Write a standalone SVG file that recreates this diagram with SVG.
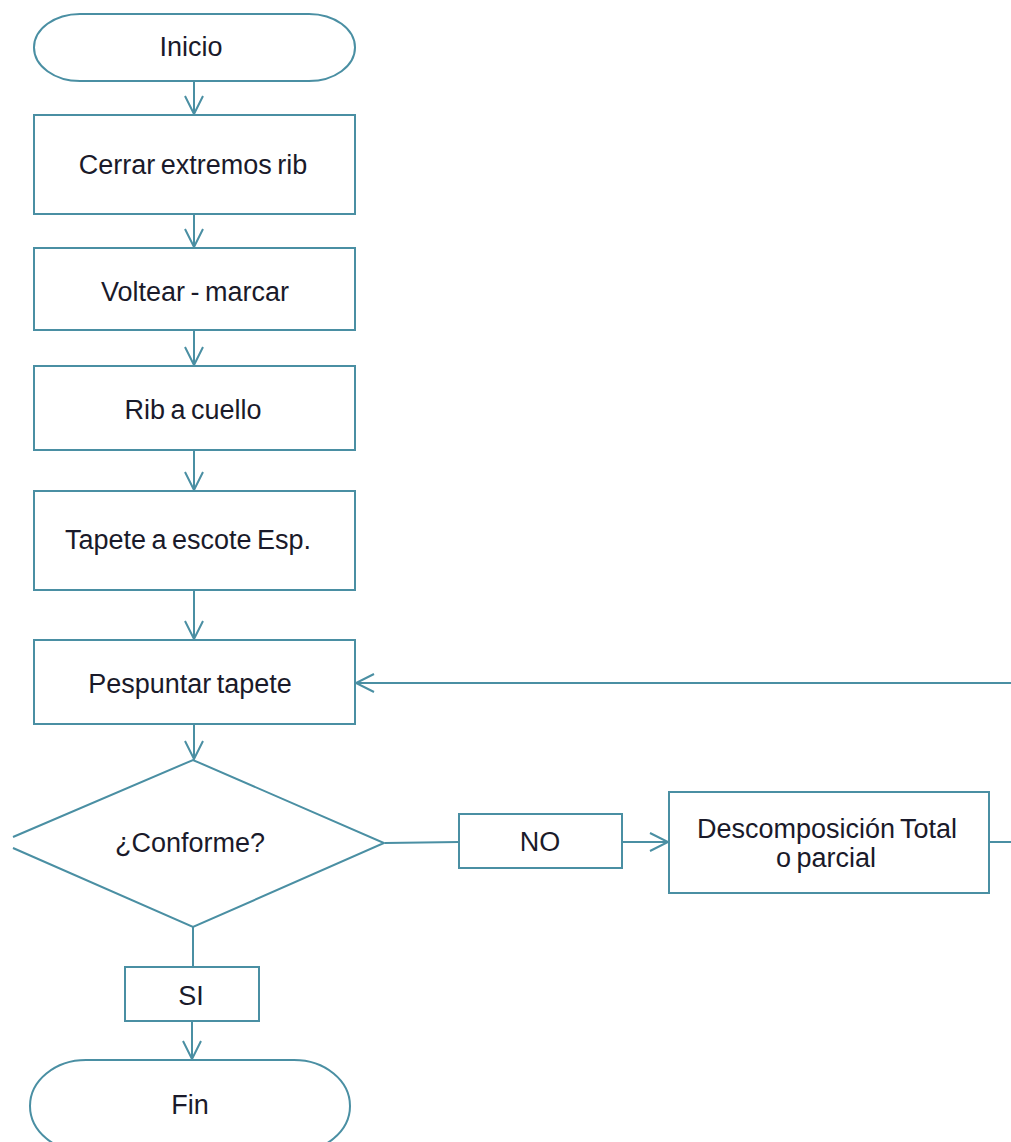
<svg xmlns="http://www.w3.org/2000/svg" width="1011" height="1142" viewBox="0 0 1011 1142">
<style>
.shape{fill:#ffffff;stroke:#4a8fa3;stroke-width:2}
.conn{fill:none;stroke:#4a8fa3;stroke-width:2}
.lbl{font-family:"Liberation Sans",Arial,sans-serif;font-size:27px;word-spacing:-2px;fill:#1a1a2a;text-anchor:middle;dominant-baseline:central}
</style>
<defs>
<marker id="arr" markerUnits="userSpaceOnUse" markerWidth="24" markerHeight="24" refX="20" refY="11" orient="auto">
<path d="M2,2 L20,11 L2,20" fill="none" stroke="#4a8fa3" stroke-width="2"/>
</marker>
</defs>
<rect width="1011" height="1142" fill="#ffffff"/>
<g id="connectors">
<line class="conn" x1="194" y1="81" x2="194" y2="114" marker-end="url(#arr)"/>
<line class="conn" x1="194" y1="214" x2="194" y2="247" marker-end="url(#arr)"/>
<line class="conn" x1="194" y1="330" x2="194" y2="365" marker-end="url(#arr)"/>
<line class="conn" x1="194" y1="450" x2="194" y2="490" marker-end="url(#arr)"/>
<line class="conn" x1="194" y1="590" x2="194" y2="639" marker-end="url(#arr)"/>
<line class="conn" x1="194" y1="724" x2="194" y2="759" marker-end="url(#arr)"/>
<line class="conn" x1="385" y1="843" x2="459" y2="842"/>
<line class="conn" x1="622" y1="842" x2="668" y2="842" marker-end="url(#arr)"/>
<line class="conn" x1="989" y1="842" x2="1011" y2="842"/>
<line class="conn" x1="1011" y1="683" x2="356" y2="683" marker-end="url(#arr)"/>
<line class="conn" x1="193" y1="927" x2="193" y2="967"/>
<line class="conn" x1="192" y1="1021" x2="192" y2="1059" marker-end="url(#arr)"/>
</g>
<g id="inicio">
<rect class="shape" x="34" y="14" width="321" height="67" rx="46" ry="33.5"/>
<text class="lbl" x="191" y="47">Inicio</text>
</g>
<g id="cerrar">
<rect class="shape" x="34" y="115" width="321" height="99"/>
<text class="lbl" x="193" y="165">Cerrar extremos rib</text>
</g>
<g id="voltear">
<rect class="shape" x="34" y="248" width="321" height="82"/>
<text class="lbl" x="195" y="292">Voltear - marcar</text>
</g>
<g id="rib">
<rect class="shape" x="34" y="366" width="321" height="84"/>
<text class="lbl" x="193" y="410">Rib a cuello</text>
</g>
<g id="tapete">
<rect class="shape" x="34" y="491" width="321" height="99"/>
<text class="lbl" x="188" y="540">Tapete a escote Esp.</text>
</g>
<g id="pespuntar">
<rect class="shape" x="34" y="640" width="321" height="84"/>
<text class="lbl" x="190" y="684">Pespuntar tapete</text>
</g>
<g id="conforme">
<path class="shape" d="M13,837 L193,760 L384,843 L193,927 L13,848"/>
<text class="lbl" x="190" y="843">¿Conforme?</text>
</g>
<g id="no">
<rect class="shape" x="459" y="814" width="163" height="54"/>
<text class="lbl" x="540" y="842">NO</text>
</g>
<g id="descomposicion">
<rect class="shape" x="669" y="792" width="320" height="101"/>
<text class="lbl" x="827" y="829">Descomposición Total</text>
<text class="lbl" x="826" y="858">o parcial</text>
</g>
<g id="si">
<rect class="shape" x="125" y="967" width="134" height="54"/>
<text class="lbl" x="191" y="996">SI</text>
</g>
<g id="fin">
<rect class="shape" x="30" y="1060" width="320" height="92" rx="56" ry="46"/>
<text class="lbl" x="190" y="1105">Fin</text>
</g>
</svg>
